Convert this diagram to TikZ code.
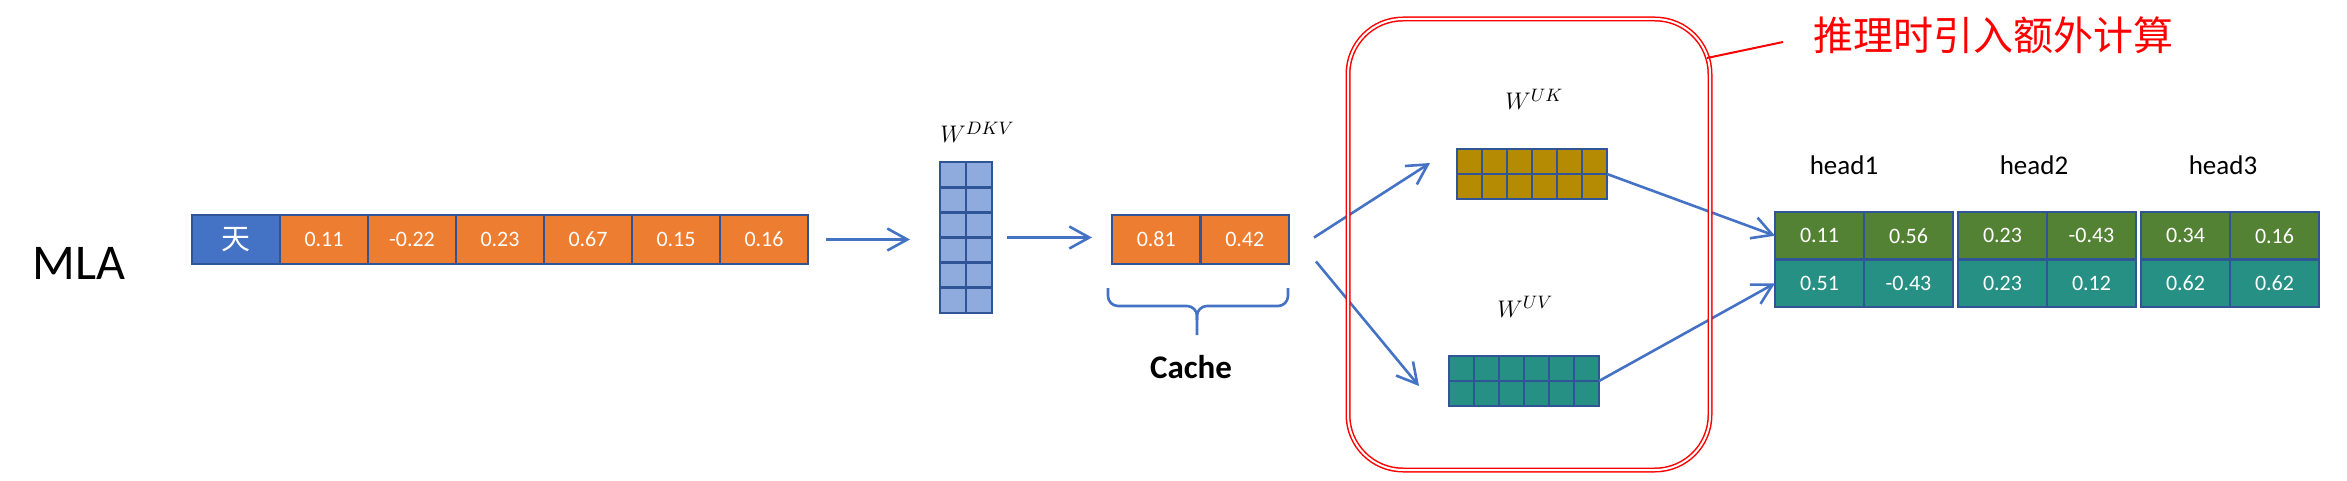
\documentclass[tikz,border=0pt]{standalone}
\usepackage{fontspec}
\setmainfont{Carlito}
\newfontfamily\cjk{Noto Sans CJK SC}
\usetikzlibrary{positioning,calc,arrows.meta}
\definecolor{edgeblue}{HTML}{2F5597}
\definecolor{tokblue}{HTML}{4472C4}
\definecolor{vecorange}{HTML}{ED7D31}
\definecolor{dkvblue}{HTML}{8FAADC}
\definecolor{ukgold}{RGB}{181,139,4}
\definecolor{kgreen}{HTML}{548235}
\definecolor{vteal}{RGB}{38,144,132}
\tikzset{cell/.style={draw=edgeblue, line width=1.4pt, outer sep=0pt, inner sep=0pt,
        text=white, font=\fontsize{11}{13}\selectfont,
        minimum width=44pt, minimum height=24.5pt},
    hcell/.style={cell, minimum width=44.5pt, minimum height=23.75pt},
    wmat/.style={draw=edgeblue, line width=1.4pt, outer sep=0pt, inner sep=0pt},
    gridline/.style={edgeblue, line width=1.4pt},
    flow/.style={draw=tokblue, line width=1.3pt, -{Straight Barb[length=10pt,width=11pt]}},
    wlabel/.style={anchor=base west, inner sep=0pt, font=\fontsize{13}{15}\selectfont},
    headlabel/.style={anchor=base, inner sep=0pt, font=\fontsize{13.5}{16}\selectfont},
    }

\begin{document}
\begin{tikzpicture}[x=0.5pt, y=-0.5pt]
\useasboundingbox (0,0) rectangle (2347,481);

\node[anchor=base west, inner sep=0pt, font=\fontsize{25}{30}\selectfont] (mla) at (32,279) {MLA};

% input token
\node[cell, fill=tokblue, font=\cjk\fontsize{14.5}{16}\selectfont] (tok) at (236,239.5) {天};
\foreach \v [count=\i] in {0.11,-0.22,0.23,0.67,0.15,0.16}
  \node[cell, fill=vecorange] (in\i) at ({236+88*\i},239.5) {\v};

% W^DKV
\node[wmat, fill=dkvblue, minimum width=26pt, minimum height=75.5pt] (dkv) at (966,237.5) {};
\draw[gridline] (dkv.north) -- (dkv.south);
\foreach \k in {1,...,5}
  \draw[gridline] ($(dkv.north west)!\k/6!(dkv.south west)$) -- ($(dkv.north east)!\k/6!(dkv.south east)$);
\node[wlabel] (wdkv) at (940,143) {$W^{DKV}$};

% latent cache
\node[cell, fill=vecorange, minimum width=44.25pt] (c1) at (1156.25,239.5) {0.81};
\node[cell, fill=vecorange, minimum width=44.25pt, right=0pt of c1] (c2) {0.42};
\draw[tokblue, line width=1.3pt, rounded corners=5pt] (1108,288) -- (1108,306) -- (1197,306) -- (1197,335);
\draw[tokblue, line width=1.3pt, rounded corners=5pt] (1288,288) -- (1288,306) -- (1197,306) -- (1197,320);
\node[anchor=base, inner sep=0pt, font=\bfseries\fontsize{16.5}{20}\selectfont] (cachelab) at (1191,378) {Cache};

% W^UK, W^UV
\node[wmat, fill=ukgold, minimum width=75pt, minimum height=25pt] (uk) at (1532,174) {};
\node[wmat, fill=vteal, minimum width=75pt, minimum height=25pt] (uv) at (1524,381) {};
\foreach \m in {uk,uv} {
  \draw[gridline] (\m.west) -- (\m.east);
  \foreach \k in {1,...,5}
    \draw[gridline] ($(\m.north west)!\k/6!(\m.north east)$) -- ($(\m.south west)!\k/6!(\m.south east)$);
}
\node[wlabel] (wuk) at (1505,110) {$W^{UK}$};
\node[wlabel] (wuv) at (1497,317) {$W^{UV}$};

% heads
\foreach \h/\lx/\ka/\kb/\va/\vb [count=\i] in {1/1844/0.11/0.56/0.51/-0.43,
    2/2034/0.23/-0.43/0.23/0.12, 3/2223/0.34/0.16/0.62/0.62} {
  \node[hcell, fill=kgreen] (k\h a) at ({1775+183*(\i-1)+44.5},235.75) {\ka};
  \node[hcell, fill=kgreen, right=0pt of k\h a] (k\h b) {\kb};
  \node[hcell, fill=vteal, below=0pt of k\h a] (v\h a) {\va};
  \node[hcell, fill=vteal, right=0pt of v\h a] (v\h b) {\vb};
  \node[headlabel] (head\h) at (\lx,175) {head\h};
}

\draw[flow, shorten <=9pt, shorten >=15pt] (in6.east) -- (in6.east -| dkv.west);
\draw[flow, shorten <=7.5pt, shorten >=10pt] (dkv.east) -- (dkv.east -| c1.west);
\draw[flow] ($(c2.east)+(25,-2)$) -- ($(uk.west)+(-27,-11)$);
\draw[flow] ($(c2.east)+(27,22)$) -- ($(uv.west)+(-30,5)$);
\draw[flow] (uk.east) -- (k1a.west);
\draw[flow] (uv.east) -- (v1a.west);

% extra compute at inference
\node[draw=red, double=white, line width=0.75pt, double distance=1pt, rounded corners=27.5pt,
    minimum width=181pt, minimum height=225.5pt, inner sep=0pt] (box) at (1529,244.5) {};
\node[anchor=west, inner sep=0pt, text=red, font=\cjk\fontsize{20}{24}\selectfont] (note) at (1813,35) {推理时引入额外计算};
\coordinate (tail) at (1707,58);
\draw[red, line width=1pt] (tail) -- ($(note.west)+(-30,7)$);
\end{tikzpicture}
\end{document}
